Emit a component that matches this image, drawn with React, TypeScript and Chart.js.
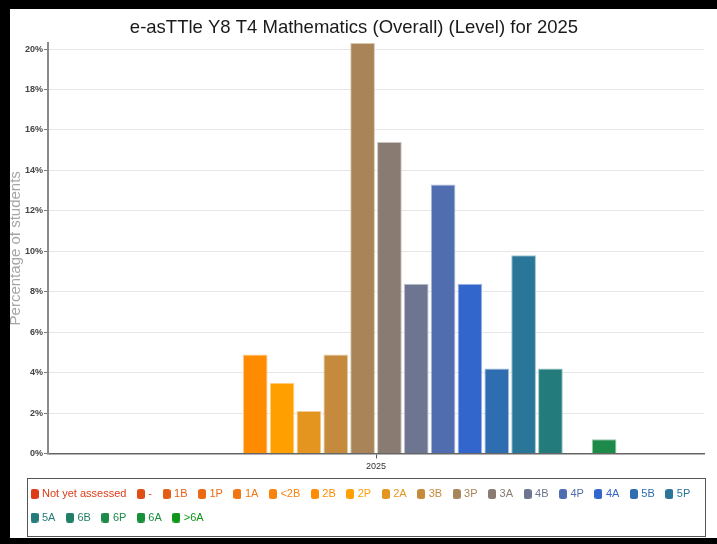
import React, { useEffect, useRef } from "react";
import { Chart, registerables } from "chart.js";

Chart.register(...registerables);

const CHART_TITLE = "e-asTTle Y8 T4 Mathematics (Overall) (Level) for 2025";
const Y_AXIS_TITLE = "Percentage of students";
const CATEGORIES = ["2025"];
const LEVELS = [
  "Not yet assessed", "-", "1B", "1P", "1A", "<2B", "2B", "2P", "2A", "3B", "3P",
  "3A", "4B", "4P", "4A", "5B", "5P", "5A", "6B", "6P", "6A", ">6A",
];
const PERCENTAGES = [
  0, 0, 0, 0, 0, 0, 4.9, 3.5, 2.1, 4.9, 20.3,
  15.4, 8.4, 13.3, 8.4, 4.2, 9.8, 4.2, 0, 0.7, 0, 0,
];
const LEVEL_COLORS = [
  "#dc3b16", "#e04e14", "#e55c14", "#ea6912", "#f07613", "#f8820c", "#ff8c00", "#ff9f00",
  "#e3951f", "#c68a3c", "#a88458", "#8a7b72", "#6e7590", "#4f6daf", "#3366cc", "#2e6db0",
  "#2a7699", "#247b7c", "#1f7f66", "#1e8a4a", "#17903a", "#109618",
];
const Y_MAX = 20.3;
const Y_STEP = 2;

const FONT = "'Liberation Sans', Arial, sans-serif";

function tint(hex: string, amt: number): string {
  const n = parseInt(hex.slice(1), 16);
  const r = (n >> 16) & 255, g = (n >> 8) & 255, b = n & 255;
  const m = (c: number) => Math.round(c + (255 - c) * amt);
  return `rgb(${m(r)},${m(g)},${m(b)})`;
}

function makeMarker(color: string): HTMLCanvasElement {
  const c = document.createElement("canvas");
  c.width = 8;
  c.height = 10;
  const ctx = c.getContext("2d")!;
  const w = 8, h = 10, r = 2.5;
  ctx.fillStyle = color;
  ctx.beginPath();
  ctx.moveTo(r, 0);
  ctx.lineTo(w - r, 0);
  ctx.arcTo(w, 0, w, r, r);
  ctx.lineTo(w, h - r);
  ctx.arcTo(w, h, w - r, h, r);
  ctx.lineTo(r, h);
  ctx.arcTo(0, h, 0, h - r, r);
  ctx.lineTo(0, r);
  ctx.arcTo(0, 0, r, 0, r);
  ctx.closePath();
  ctx.fill();
  return c;
}

const legendFramePlugin = {
  id: "legendFrame",
  afterLayout(chart: any) {
    // centre the title a little left of the full box, as in the reference
    if (chart.titleBlock) chart.titleBlock.left = 4;
  },
  afterDraw(chart: any) {
    const lg = chart.legend;
    if (!lg) return;
    const ctx = chart.ctx;
    ctx.save();
    ctx.strokeStyle = "#555";
    ctx.lineWidth = 1;
    const x = Math.round(lg.left + 7) + 0.5;
    const y = Math.round(lg.top + 2) + 0.5;
    const w = Math.round(lg.right + 1) - Math.round(lg.left + 7);
    ctx.strokeRect(x, y, w, 58);
    ctx.restore();
  },
};

export default function App() {
  const ref = useRef<HTMLCanvasElement>(null);

  useEffect(() => {
    if (!ref.current) return;
    const markers = LEVEL_COLORS.map(makeMarker);
    const chart = new Chart(ref.current, {
      type: "bar",
      data: {
        labels: CATEGORIES,
        datasets: LEVELS.map((label, i) => ({
          label,
          data: [PERCENTAGES[i]],
          backgroundColor: LEVEL_COLORS[i],
          borderColor: tint(LEVEL_COLORS[i], 0.55),
          borderWidth: 1,
          categoryPercentage: 0.9,
          barPercentage: 0.92,
        })),
      },
      options: {
        responsive: false,
        animation: false,
        devicePixelRatio: 1,
        layout: { padding: { left: 20, right: 13, top: 0, bottom: 11 } },
        plugins: {
          title: {
            display: true,
            text: CHART_TITLE,
            color: "#1a1a1a",
            font: { family: FONT, size: 18.5, weight: "normal", lineHeight: 1.3 },
            padding: { top: 16, bottom: 3 },
          },
          legend: {
            position: "bottom",
            align: "start",
            labels: {
              usePointStyle: true,
              pointStyleWidth: 4,
              padding: 12.5,
              font: { family: FONT, size: 11 },
              generateLabels: (c: any) =>
                c.data.datasets.map((ds: any, i: number) => ({
                  text: ds.label,
                  fillStyle: LEVEL_COLORS[i],
                  strokeStyle: LEVEL_COLORS[i],
                  lineWidth: 0,
                  pointStyle: markers[i],
                  fontColor: LEVEL_COLORS[i],
                  datasetIndex: i,
                  hidden: !c.isDatasetVisible(i),
                })),
            },
          },
          tooltip: { enabled: false },
        },
        scales: {
          x: {
            grid: {
              display: true,
              drawOnChartArea: false,
              offset: false,
              tickLength: 5,
              tickColor: "#555",
            },
            border: { color: "#666", width: 1.5 },
            ticks: { color: "#333", font: { family: FONT, size: 9 }, padding: 3 },
            afterFit: (s: any) => {
              s.height = 22.5;
            },
          },
          y: {
            min: 0,
            max: Y_MAX,
            grid: { color: "#e6e6e6", tickLength: 4, tickColor: "#777" },
            border: { color: "#8a8a8a", width: 2 },
            ticks: {
              stepSize: Y_STEP,
              includeBounds: false,
              callback: (v: any) => `${v}%`,
              color: "#444",
              font: { family: FONT, size: 9, weight: "bold" },
              padding: 1,
            },
            title: {
              display: true,
              text: Y_AXIS_TITLE,
              color: "#a6a6a6",
              font: { family: FONT, size: 15 },
              padding: { top: -13.5, bottom: 0 },
            },
            afterFit: (s: any) => {
              s.width = 28;
            },
          },
        },
      },
      plugins: [legendFramePlugin],
    } as any);
    return () => chart.destroy();
  }, []);

  return (
    <div
      style={{
        position: "fixed",
        left: 0,
        top: 0,
        width: 717,
        height: 544,
        background: "#fff",
        overflow: "hidden",
      }}
    >
      <canvas ref={ref} width={717} height={544} style={{ display: "block", width: 717, height: 544 }} />
      <div style={{ position: "absolute", left: 0, top: 0, width: 717, height: 9, background: "#000" }} />
      <div style={{ position: "absolute", left: 0, top: 0, width: 10, height: 544, background: "#000" }} />
      <div style={{ position: "absolute", left: 0, top: 538, width: 717, height: 6, background: "#000" }} />
    </div>
  );
}
